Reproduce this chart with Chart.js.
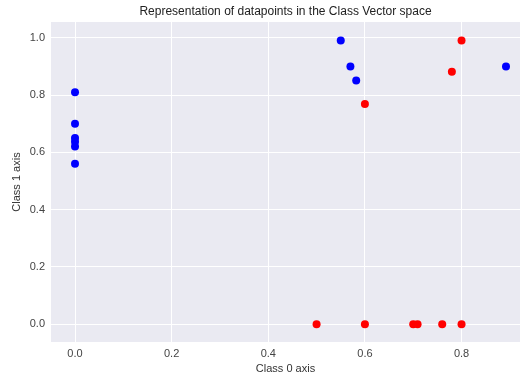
<!DOCTYPE html>
<html>
<head>
  <meta charset="utf-8" />
  <title>Class Vector space</title>
  <script src="https://cdn.jsdelivr.net/npm/chart.js"></script>
  <style>
    html, body { margin: 0; padding: 0; background: #fff; }
    #wrap { width: 520px; height: 379px; }
  </style>
</head>
<body>
  <div id="wrap"><canvas id="scatterChart"></canvas></div>
  <script>
    // points
    const blueX = [0, 0, 0, 0, 0, 0, 0.55, 0.57, 0.582, 0.892];
    const blueY = [0.81, 0.70, 0.65, 0.637, 0.62, 0.56, 0.99, 0.90, 0.851, 0.90];
    const redX = [0.60, 0.78, 0.80, 0.50, 0.60, 0.70, 0.709, 0.76, 0.80];
    const redY = [0.769, 0.881, 0.99, 0, 0, 0, 0, 0, 0];
    const xTicks = [0, 0.2, 0.4, 0.6, 0.8];
    const yTicks = [0, 0.2, 0.4, 0.6, 0.8, 1.0];

    const toPoints = (xs, ys) => xs.map((x, i) => ({ x: x, y: ys[i] }));

    // grey seaborn-like plot background
    const plotBg = {
      id: 'plotBg',
      beforeDraw(chart) {
        const { ctx, chartArea } = chart;
        ctx.save();
        ctx.fillStyle = '#EAEAF2';
        ctx.fillRect(chartArea.left, chartArea.top, chartArea.right - chartArea.left, chartArea.bottom - chartArea.top);
        ctx.restore();
      }
    };

    const tickFont = { family: 'Liberation Sans', size: 11 };
    const labelFont = { family: 'Liberation Sans', size: 11 };

    new Chart(document.getElementById('scatterChart'), {
      type: 'scatter',
      data: {
        datasets: [
          { data: toPoints(blueX, blueY), backgroundColor: '#0000FF', borderWidth: 0, pointRadius: 4 },
          { data: toPoints(redX, redY), backgroundColor: '#FF0000', borderWidth: 0, pointRadius: 4 }
        ]
      },
      plugins: [plotBg],
      options: {
        responsive: true,
        maintainAspectRatio: false,
        animation: false,
        layout: { autoPadding: false, padding: 0 },
        plugins: {
          legend: { display: false },
          tooltip: { enabled: false },
          title: {
            display: true,
            text: 'Representation of datapoints in the Class Vector space',
            fullSize: false,
            color: '#222',
            font: { family: 'Liberation Sans', size: 12, weight: 'normal' },
            padding: { top: 4, bottom: 3.6 }
          }
        },
        scales: {
          x: {
            type: 'linear',
            min: -0.0497,
            max: 0.921,
            afterFit: (s) => { s.height = 37; },
            afterBuildTicks: (s) => { s.ticks = xTicks.map(v => ({ value: v })); },
            ticks: { color: '#444', font: tickFont, padding: 5, callback: v => v.toFixed(1) },
            grid: { color: '#FFFFFF', lineWidth: 1, drawTicks: false },
            border: { display: false },
            title: { display: true, text: 'Class 0 axis', color: '#333', font: labelFont, padding: { top: 0, bottom: 3 } }
          },
          y: {
            type: 'linear',
            min: -0.062,
            max: 1.055,
            afterFit: (s) => { s.width = 51; },
            afterBuildTicks: (s) => { s.ticks = yTicks.map(v => ({ value: v })); },
            ticks: { color: '#444', font: tickFont, padding: 6, callback: v => v.toFixed(1) },
            grid: { color: '#FFFFFF', lineWidth: 1, drawTicks: false },
            border: { display: false },
            title: { display: true, text: 'Class 1 axis', color: '#333', font: labelFont, padding: { top: 10, bottom: 0 } }
          }
        }
      }
    });
  </script>
</body>
</html>
